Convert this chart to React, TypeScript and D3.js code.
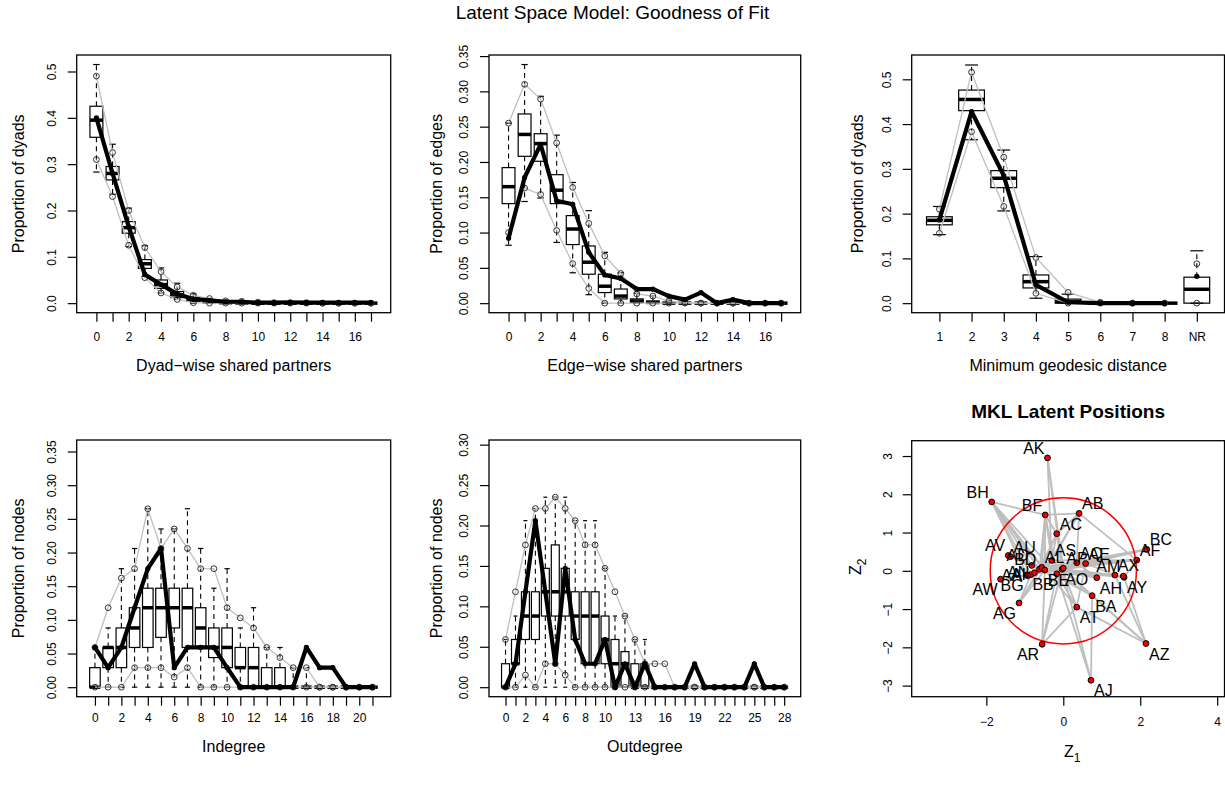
import { useEffect, useRef } from 'react'
import * as d3 from 'd3'

const W = 1225
const H = 787
const FONT = '"Liberation Sans", Arial, Helvetica, sans-serif'

// ---------- Dyad-wise shared partners
const dspCats = ['0', '1', '2', '3', '4', '5', '6', '7', '8', '9', '10', '11', '12', '13', '14', '15', '16', '17']
const dspShown = ['0', '2', '4', '6', '8', '10', '12', '14', '16']
const dspLo = [0.283, 0.235, 0.122, 0.058, 0.022, 0.008, 0, 0, 0, 0, 0, 0, 0, 0, 0, 0, 0, 0]
const dspQ1 = [0.358, 0.266, 0.151, 0.075, 0.032, 0.012, 0.004, 0.001, 0, 0, 0, 0, 0, 0, 0, 0, 0, 0]
const dspMed = [0.395, 0.28, 0.163, 0.085, 0.04, 0.018, 0.007, 0.003, 0.001, 0.0005, 0, 0, 0, 0, 0, 0, 0, 0]
const dspQ3 = [0.425, 0.295, 0.176, 0.094, 0.05, 0.025, 0.012, 0.006, 0.003, 0.002, 0.001, 0, 0, 0, 0, 0, 0, 0]
const dspHi = [0.515, 0.343, 0.205, 0.124, 0.076, 0.043, 0.02, 0.01, 0.006, 0.004, 0.002, 0.001, 0.001, 0.001, 0, 0, 0, 0]
const dspGreyLo = [0.31, 0.23, 0.125, 0.055, 0.022, 0.008, 0.001, 0, 0, 0, 0, 0, 0, 0, 0, 0, 0, 0]
const dspGreyHi = [0.49, 0.325, 0.2, 0.12, 0.068, 0.035, 0.017, 0.01, 0.005, 0.004, 0.002, 0.001, 0.001, 0.001, 0, 0, 0, 0]
const dspObs = [0.4, 0.28, 0.165, 0.062, 0.04, 0.02, 0.009, 0.006, 0.003, 0.003, 0.001, 0.001, 0.002, 0.001, 0.001, 0.001, 0.001, 0.001]

// ---------- Edge-wise shared partners
const espCats = dspCats
const espShown = dspShown
const espLo = [0.082, 0.144, 0.149, 0.086, 0.043, 0.012, 0, 0, 0, 0, 0, 0, 0, 0, 0, 0, 0, 0]
const espQ1 = [0.141, 0.208, 0.201, 0.141, 0.083, 0.041, 0.015, 0.006, 0.001, 0, 0, 0, 0, 0, 0, 0, 0, 0]
const espMed = [0.165, 0.239, 0.226, 0.16, 0.105, 0.058, 0.024, 0.01, 0.003, 0.001, 0, 0, 0, 0, 0, 0, 0, 0]
const espQ3 = [0.192, 0.268, 0.24, 0.182, 0.124, 0.081, 0.041, 0.02, 0.006, 0.003, 0.001, 0, 0, 0, 0, 0, 0, 0]
const espHi = [0.255, 0.338, 0.293, 0.238, 0.171, 0.131, 0.072, 0.043, 0.014, 0.01, 0.004, 0.002, 0.001, 0, 0, 0, 0, 0]
const espGreyLo = [0.1, 0.163, 0.154, 0.103, 0.056, 0.021, 0, 0, 0, 0, 0, 0, 0, 0, 0, 0, 0, 0]
const espGreyHi = [0.255, 0.31, 0.289, 0.227, 0.164, 0.113, 0.067, 0.042, 0.013, 0.01, 0.003, 0.001, 0, 0, 0, 0, 0, 0]
const espObs = [0.092, 0.178, 0.225, 0.145, 0.14, 0.072, 0.04, 0.035, 0.02, 0.02, 0.01, 0.005, 0.015, 0, 0.005, 0, 0, 0]

// ---------- Minimum geodesic distance
const distCats = ['1', '2', '3', '4', '5', '6', '7', '8', 'NR']
const distLo = [0.153, 0.365, 0.206, 0.011, 0, 0, 0, 0, 0]
const distQ1 = [0.175, 0.43, 0.258, 0.034, 0, 0, 0, 0, 0]
const distMed = [0.185, 0.455, 0.279, 0.048, 0.003, 0, 0, 0, 0.031]
const distQ3 = [0.193, 0.476, 0.296, 0.063, 0.009, 0.001, 0, 0, 0.058]
const distHi = [0.216, 0.532, 0.342, 0.104, 0.02, 0.002, 0, 0, 0.117]
const distGreyLo = [0.156, 0.383, 0.216, 0.022, 0, 0, 0, 0, 0]
const distGreyHi = [0.21, 0.516, 0.326, 0.102, 0.024, 0.002, 0, 0, 0.088]
const distObs = [0.186, 0.428, 0.285, 0.041, 0.002, 0, 0, 0, 0.06]

// ---------- Indegree
const indegCats = ['0', '1', '2', '3', '4', '5', '6', '7', '8', '9', '10', '11', '12', '13', '14', '15', '16', '17', '18', '19', '20', '21']
const indegShown = ['0', '2', '4', '6', '8', '10', '12', '14', '16', '18', '20']
const indegLo = [0, 0, 0, 0, 0, 0, 0, 0, 0, 0, 0, 0, 0, 0, 0, 0, 0, 0, 0, 0, 0, 0]
const indegQ1 = [0, 0.029, 0.029, 0.059, 0.059, 0.074, 0.088, 0.059, 0.059, 0.044, 0.029, 0.029, 0, 0, 0, 0, 0, 0, 0, 0, 0, 0]
const indegMed = [0, 0.059, 0.059, 0.088, 0.118, 0.118, 0.118, 0.118, 0.088, 0.059, 0.059, 0.029, 0.029, 0, 0, 0, 0, 0, 0, 0, 0, 0]
const indegQ3 = [0.029, 0.059, 0.088, 0.118, 0.147, 0.147, 0.147, 0.147, 0.118, 0.088, 0.088, 0.059, 0.059, 0.029, 0.029, 0, 0, 0, 0, 0, 0, 0]
const indegHi = [0.059, 0.088, 0.176, 0.206, 0.265, 0.235, 0.235, 0.265, 0.206, 0.147, 0.176, 0.088, 0.118, 0.059, 0.059, 0.029, 0.029, 0, 0, 0, 0, 0]
const indegGreyLo = [0, 0, 0, 0.029, 0.029, 0.029, 0.015, 0.029, 0, 0, 0, 0, 0, 0, 0, 0, 0, 0, 0, 0, 0, 0]
const indegGreyHi = [0.059, 0.118, 0.162, 0.176, 0.265, 0.206, 0.235, 0.206, 0.176, 0.176, 0.118, 0.103, 0.088, 0.059, 0.044, 0.029, 0.029, 0, 0, 0, 0, 0]
const indegObs = [0.059, 0.029, 0.059, 0.118, 0.176, 0.206, 0.029, 0.059, 0.059, 0.059, 0.029, 0, 0, 0, 0, 0, 0.059, 0.029, 0.029, 0, 0, 0]

// ---------- Outdegree
const outdegCats = ['0', '1', '2', '3', '4', '5', '6', '7', '8', '9', '10', '11', '12', '13', '14', '15', '16', '17', '18', '19', '20', '21', '22', '23', '24', '25', '26', '27', '28']
const outdegShown = ['0', '2', '4', '6', '8', '10', '13', '16', '19', '22', '25', '28']
const outdegLo = [0, 0, 0, 0, 0, 0, 0, 0, 0, 0, 0, 0, 0, 0, 0, 0, 0, 0, 0, 0, 0, 0, 0, 0, 0, 0, 0, 0, 0]
const outdegQ1 = [0, 0.029, 0.059, 0.059, 0.088, 0.088, 0.088, 0.059, 0.029, 0.029, 0.029, 0, 0, 0, 0, 0, 0, 0, 0, 0, 0, 0, 0, 0, 0, 0, 0, 0, 0]
const outdegMed = [0, 0.029, 0.088, 0.088, 0.118, 0.118, 0.118, 0.088, 0.088, 0.088, 0.059, 0.029, 0.029, 0, 0, 0, 0, 0, 0, 0, 0, 0, 0, 0, 0, 0, 0, 0, 0]
const outdegQ3 = [0.029, 0.059, 0.118, 0.118, 0.147, 0.176, 0.147, 0.118, 0.118, 0.118, 0.088, 0.059, 0.044, 0.029, 0.029, 0, 0, 0, 0, 0, 0, 0, 0, 0, 0, 0, 0, 0, 0]
const outdegHi = [0.059, 0.088, 0.206, 0.221, 0.235, 0.235, 0.235, 0.206, 0.206, 0.206, 0.147, 0.088, 0.088, 0.059, 0.059, 0, 0, 0, 0, 0, 0, 0, 0, 0, 0, 0, 0, 0, 0]
const outdegGreyLo = [0, 0, 0.015, 0, 0.029, 0.029, 0.015, 0, 0, 0, 0, 0, 0, 0, 0, 0, 0, 0, 0, 0, 0, 0, 0, 0, 0, 0, 0, 0, 0]
const outdegGreyHi = [0.059, 0.118, 0.176, 0.221, 0.221, 0.235, 0.221, 0.206, 0.176, 0.176, 0.147, 0.118, 0.088, 0.059, 0.029, 0.029, 0.029, 0, 0, 0, 0, 0, 0, 0, 0, 0, 0, 0, 0]
const outdegObs = [0, 0.029, 0.118, 0.206, 0.118, 0.029, 0.147, 0.059, 0.029, 0.029, 0.059, 0, 0.029, 0, 0.029, 0, 0, 0, 0, 0.029, 0, 0, 0, 0, 0, 0.029, 0, 0, 0]

// ---------- MKL latent positions
const nodeNames = ['AK', 'BH', 'BF', 'AB', 'AC', 'AV', 'AU', 'AD', 'BD', 'AL', 'AS', 'BE', 'AO', 'AP', 'BB', 'AQ', 'AE', 'AH', 'AX', 'AY', 'AM', 'AF', 'BC', 'AW', 'BG', 'AI', 'AA', 'AN', 'AG', 'AT', 'BA', 'AR', 'AZ', 'AJ']
const nodeX = [-0.41, -1.86, -0.47, 0.41, -0.17, -1.43, -1.37, -0.82, -0.62, -0.56, -0.3, -0.48, -0.03, 0.0, -0.17, 0.35, 0.58, 0.87, 1.34, 1.58, 1.56, 1.91, 2.17, -1.63, -0.95, -0.84, -0.93, -0.75, -1.15, 0.35, 0.75, -0.55, 2.15, 0.72]
const nodeY = [2.95, 1.8, 1.46, 1.5, 0.97, 0.4, 0.37, 0.14, 0.04, 0.09, 0.27, 0.02, 0.04, 0.07, -0.08, 0.21, 0.19, -0.18, -0.11, -0.17, -0.14, 0.28, 0.56, -0.22, -0.11, -0.1, -0.13, -0.05, -0.84, -0.95, -0.65, -1.92, -1.9, -2.86]
const nodeLabelSide = ['nw', 'nw', 'nw', 'ne', 'ne', 'nw', 'ne', 'nw', 'nw', 'ne', 'ne', 'se', 'se', 'ne', 'sw', 'ne', 'ne', 'se', 'ne', 'se', 'nw', 'ne', 'ne', 'sw', 'sw', 'w', 'w', 'w', 'sw', 'se', 'se', 'sw', 'se', 'se']
const edgeList = [
  ['BH', 'BF'], ['BH', 'AD'], ['BH', 'BD'], ['BH', 'AL'], ['BH', 'BE'], ['BH', 'AI'], ['BH', 'BB'], ['BH', 'AA'],
  ['AK', 'AO'], ['AK', 'AS'], ['AK', 'AP'],
  ['BF', 'AB'], ['BF', 'AL'], ['BF', 'AS'], ['BF', 'BE'], ['BF', 'BD'], ['BF', 'BB'], ['BF', 'AC'],
  ['AB', 'AF'], ['AB', 'AC'], ['AB', 'AS'], ['AB', 'BE'], ['AB', 'AQ'],
  ['AC', 'AS'], ['AC', 'BD'], ['AC', 'AL'], ['AC', 'AO'],
  ['AV', 'AD'], ['AV', 'BD'], ['AV', 'AL'], ['AU', 'BD'], ['AU', 'AL'],
  ['BC', 'AO'], ['BC', 'AL'], ['BC', 'AP'], ['BC', 'BE'], ['BC', 'AQ'],
  ['AF', 'AO'], ['AF', 'AS'], ['AF', 'AE'], ['AF', 'BE'], ['AF', 'AL'], ['AF', 'AY'],
  ['AX', 'AZ'], ['AX', 'AO'], ['AX', 'AE'], ['AY', 'AZ'], ['AY', 'AO'], ['AY', 'BE'], ['AM', 'AO'],
  ['AZ', 'BA'], ['AZ', 'AO'], ['AZ', 'AT'],
  ['AJ', 'BA'], ['AJ', 'AO'], ['AJ', 'BB'],
  ['AR', 'AT'], ['AR', 'BE'], ['AR', 'AO'], ['AR', 'BB'],
  ['AG', 'BD'], ['AG', 'AI'], ['AG', 'BE'], ['AG', 'AL'],
  ['AW', 'BG'], ['AW', 'AI'], ['AW', 'AO'],
  ['AT', 'AO'], ['AT', 'BB'], ['AT', 'AE'], ['AT', 'BE'],
  ['AH', 'AO'], ['AH', 'BE'], ['AH', 'AQ'], ['AH', 'AP'],
  ['BA', 'AO'], ['BA', 'AP'], ['BA', 'BB'], ['BA', 'AS'], ['BA', 'BE'],
  ['AD', 'BD'], ['BD', 'AL'], ['AL', 'BE'], ['BE', 'AO'], ['AO', 'AP'], ['AP', 'AQ'], ['AQ', 'AE'],
  ['AS', 'AO'], ['BB', 'AO'], ['AI', 'AA'], ['AA', 'AN'], ['AN', 'BE'], ['BG', 'AI'], ['BD', 'BE'],
  ['AL', 'AS'], ['AS', 'BE'], ['AD', 'AL'], ['AE', 'AO'], ['AQ', 'BE'], ['AN', 'AO'], ['BG', 'BE'],
]
const latentXTicks = [-2, 0, 2, 4]
const latentYTicks = [-3, -2, -1, 0, 1, 2, 3]
const latentXRange = [-3.94, 4.19]
const latentYRange = [-3.29, 3.4]
const mklRadius = 1.9

const panels = [
  {
    frame: { x0: 76.7, x1: 390.7, y0: 55, y1: 312.7 },
    cats: dspCats, shown: dspShown, yMax: 0.515, yTicks: [0, 0.1, 0.2, 0.3, 0.4, 0.5], yFmt: '.1f',
    lo: dspLo, q1: dspQ1, med: dspMed, q3: dspQ3, hi: dspHi, gLo: dspGreyLo, gHi: dspGreyHi, obs: dspObs,
    nLine: 18, xlab: 'Dyad\u2212wise shared partners', ylab: 'Proportion of dyads',
    tickDy: 24, xlabDy: 53, ylabX: 18.3,
  },
  {
    frame: { x0: 489, x1: 800.7, y0: 55, y1: 312.7 },
    cats: espCats, shown: espShown, yMax: 0.338, yTicks: [0, 0.05, 0.1, 0.15, 0.2, 0.25, 0.3, 0.35], yFmt: '.2f',
    lo: espLo, q1: espQ1, med: espMed, q3: espQ3, hi: espHi, gLo: espGreyLo, gHi: espGreyHi, obs: espObs,
    nLine: 18, xlab: 'Edge\u2212wise shared partners', ylab: 'Proportion of edges',
    tickDy: 24, xlabDy: 53, ylabX: 436.5,
  },
  {
    frame: { x0: 911.7, x1: 1224.5, y0: 55, y1: 312.7 },
    cats: distCats, shown: distCats, yMax: 0.533, yTicks: [0, 0.1, 0.2, 0.3, 0.4, 0.5], yFmt: '.1f',
    lo: distLo, q1: distQ1, med: distMed, q3: distQ3, hi: distHi, gLo: distGreyLo, gHi: distGreyHi, obs: distObs,
    nLine: 8, xlab: 'Minimum geodesic distance', ylab: 'Proportion of dyads',
    tickDy: 24, xlabDy: 53, ylabX: 857.5,
  },
  {
    frame: { x0: 76.7, x1: 390.7, y0: 440, y1: 696.7 },
    cats: indegCats, shown: indegShown, yMax: 0.353, yTicks: [0, 0.05, 0.1, 0.15, 0.2, 0.25, 0.3, 0.35], yFmt: '.2f',
    lo: indegLo, q1: indegQ1, med: indegMed, q3: indegQ3, hi: indegHi, gLo: indegGreyLo, gHi: indegGreyHi, obs: indegObs,
    nLine: 22, xlab: 'Indegree', ylab: 'Proportion of nodes',
    tickDy: 21, xlabDy: 50, ylabX: 18.3,
  },
  {
    frame: { x0: 489, x1: 800.7, y0: 440, y1: 696.7 },
    cats: outdegCats, shown: outdegShown, yMax: 0.294, yTicks: [0, 0.05, 0.1, 0.15, 0.2, 0.25, 0.3], yFmt: '.2f',
    lo: outdegLo, q1: outdegQ1, med: outdegMed, q3: outdegQ3, hi: outdegHi, gLo: outdegGreyLo, gHi: outdegGreyHi, obs: outdegObs,
    nLine: 29, xlab: 'Outdegree', ylab: 'Proportion of nodes',
    tickDy: 21, xlabDy: 50, ylabX: 436.5,
  },
]

function styleAxis(a) {
  a.attr('font-size', 12).attr('font-family', FONT)
  a.select('.domain').remove()
  a.selectAll('.tick line').attr('stroke-width', 1.2)
}

function drawGof(g, p) {
  const { x0, x1, y0, y1 } = p.frame
  const n = p.cats.length
  const pos = p.cats.map((_, i) => i + 1)
  const x = d3.scaleLinear().domain([0.5 - 0.04 * n, n + 0.5 + 0.04 * n]).range([x0, x1])
  const y = d3.scaleLinear().domain([-0.04 * p.yMax, 1.04 * p.yMax]).range([y1, y0])
  const unit = x(2) - x(1)
  const half = 0.4 * unit
  const staple = 0.2 * unit

  // boxplots
  const bx = g.append('g').attr('stroke', '#000').attr('fill', 'none')
  bx.selectAll('.wu').data(pos).join('line')
    .attr('x1', (k) => x(k)).attr('x2', (k) => x(k))
    .attr('y1', (k) => y(p.q3[k - 1])).attr('y2', (k) => y(p.hi[k - 1]))
    .attr('stroke-width', 1.1).attr('stroke-dasharray', '5,4')
  bx.selectAll('.wl').data(pos).join('line')
    .attr('x1', (k) => x(k)).attr('x2', (k) => x(k))
    .attr('y1', (k) => y(p.q1[k - 1])).attr('y2', (k) => y(p.lo[k - 1]))
    .attr('stroke-width', 1.1).attr('stroke-dasharray', '5,4')
  bx.selectAll('.su').data(pos).join('line')
    .attr('x1', (k) => x(k) - staple).attr('x2', (k) => x(k) + staple)
    .attr('y1', (k) => y(p.hi[k - 1])).attr('y2', (k) => y(p.hi[k - 1]))
    .attr('stroke-width', 1.2)
  bx.selectAll('.sl').data(pos).join('line')
    .attr('x1', (k) => x(k) - staple).attr('x2', (k) => x(k) + staple)
    .attr('y1', (k) => y(p.lo[k - 1])).attr('y2', (k) => y(p.lo[k - 1]))
    .attr('stroke-width', 1.2)
  bx.selectAll('rect').data(pos).join('rect')
    .attr('x', (k) => x(k) - half).attr('width', 2 * half)
    .attr('y', (k) => y(p.q3[k - 1])).attr('height', (k) => y(p.q1[k - 1]) - y(p.q3[k - 1]))
    .attr('stroke-width', 1.2)
  bx.selectAll('.med').data(pos).join('line')
    .attr('x1', (k) => x(k) - half).attr('x2', (k) => x(k) + half)
    .attr('y1', (k) => y(p.med[k - 1])).attr('y2', (k) => y(p.med[k - 1]))
    .attr('stroke-width', 3.5)

  // simulation bounds
  const line = d3.line().x((d, i) => x(i + 1)).y((d) => y(d))
  ;[p.gLo, p.gHi].forEach((vals) => {
    g.append('path').attr('d', line(vals.slice(0, p.nLine)))
      .attr('fill', 'none').attr('stroke', '#bfbfbf').attr('stroke-width', 1.3)
    g.append('g').selectAll('circle').data(vals).join('circle')
      .attr('cx', (d, i) => x(i + 1)).attr('cy', (d) => y(d)).attr('r', 2.9)
      .attr('fill', 'none').attr('stroke', '#333').attr('stroke-width', 1)
  })

  // observed
  g.append('path').attr('d', line(p.obs.slice(0, p.nLine)))
    .attr('fill', 'none').attr('stroke', '#000').attr('stroke-width', 4.2)
    .attr('stroke-linejoin', 'round')
  g.append('g').selectAll('circle').data(p.obs).join('circle')
    .attr('cx', (d, i) => x(i + 1)).attr('cy', (d) => y(d)).attr('r', 2.6).attr('fill', '#000')

  // frame
  g.append('rect').attr('x', x0).attr('y', y0).attr('width', x1 - x0).attr('height', y1 - y0)
    .attr('fill', 'none').attr('stroke', '#000').attr('stroke-width', 1.3)

  // axes
  const ya = g.append('g').attr('transform', `translate(${x0},0)`)
    .call(d3.axisLeft(y).tickValues(p.yTicks).tickSize(9).tickFormat(d3.format(p.yFmt)))
  styleAxis(ya)
  ya.selectAll('.tick text').attr('x', null).attr('dy', null)
    .attr('text-anchor', 'middle').attr('transform', 'translate(-20.7,0) rotate(-90)')

  const xa = g.append('g').attr('transform', `translate(0,${y1})`)
    .call(d3.axisBottom(x).tickValues(pos).tickSize(9)
      .tickFormat((k) => (p.shown.includes(p.cats[k - 1]) ? p.cats[k - 1] : '')))
  styleAxis(xa)
  xa.selectAll('.tick text').attr('y', p.tickDy + 4.3).attr('dy', null)

  g.append('text').attr('x', (x0 + x1) / 2).attr('y', y1 + p.xlabDy + 5.7)
    .attr('text-anchor', 'middle').attr('font-size', 16).attr('font-family', FONT).text(p.xlab)
  g.append('text').attr('text-anchor', 'middle').attr('font-size', 16).attr('font-family', FONT)
    .attr('transform', `translate(${p.ylabX + 5.7},${(y0 + y1) / 2}) rotate(-90)`).text(p.ylab)
}

function drawLatent(g) {
  const fr = { x0: 911.7, x1: 1224.5, y0: 440.7, y1: 696.7 }
  const x = d3.scaleLinear().domain(latentXRange).range([fr.x0, fr.x1])
  const y = d3.scaleLinear().domain(latentYRange).range([fr.y1, fr.y0])
  const at = (name) => nodeNames.indexOf(name)

  g.append('g').selectAll('line').data(edgeList).join('line')
    .attr('x1', (d) => x(nodeX[at(d[0])])).attr('y1', (d) => y(nodeY[at(d[0])]))
    .attr('x2', (d) => x(nodeX[at(d[1])])).attr('y2', (d) => y(nodeY[at(d[1])]))
    .attr('stroke', '#bebebe').attr('stroke-width', 1.8)

  g.append('circle').attr('cx', x(0)).attr('cy', y(0)).attr('r', x(mklRadius) - x(0))
    .attr('fill', 'none').attr('stroke', '#ff0000').attr('stroke-width', 1.5)

  g.append('g').selectAll('circle').data(nodeNames).join('circle')
    .attr('cx', (d, i) => x(nodeX[i])).attr('cy', (d, i) => y(nodeY[i])).attr('r', 2.9)
    .attr('fill', '#ee0000').attr('stroke', '#000').attr('stroke-width', 1)

  const dx = { ne: 3, nw: -3, se: 3, sw: -3, w: -5 }
  const dy = { ne: -4, nw: -4, se: 16, sw: 16, w: 5.5 }
  g.append('g').attr('font-size', 16).attr('font-family', FONT)
    .selectAll('text').data(nodeNames).join('text')
    .attr('x', (d, i) => x(nodeX[i]) + dx[nodeLabelSide[i]])
    .attr('y', (d, i) => y(nodeY[i]) + dy[nodeLabelSide[i]])
    .attr('text-anchor', (d, i) => (nodeLabelSide[i].includes('e') ? 'start' : 'end'))
    .text((d) => d)

  g.append('rect').attr('x', fr.x0).attr('y', fr.y0).attr('width', fr.x1 - fr.x0).attr('height', fr.y1 - fr.y0)
    .attr('fill', 'none').attr('stroke', '#000').attr('stroke-width', 1.3)

  const ya = g.append('g').attr('transform', `translate(${fr.x0},0)`)
    .call(d3.axisLeft(y).tickValues(latentYTicks).tickSize(9).tickFormat(d3.format('d')))
  styleAxis(ya)
  ya.selectAll('.tick text').attr('x', null).attr('dy', null)
    .attr('text-anchor', 'middle').attr('transform', 'translate(-19.4,0) rotate(-90)')
  const xa = g.append('g').attr('transform', `translate(0,${fr.y1})`)
    .call(d3.axisBottom(x).tickValues(latentXTicks).tickSize(9).tickFormat(d3.format('d')))
  styleAxis(xa)
  xa.selectAll('.tick text').attr('y', 29.6).attr('dy', null)

  g.append('text').attr('x', (fr.x0 + fr.x1) / 2).attr('y', 417.5).attr('text-anchor', 'middle')
    .attr('font-size', 19).attr('font-weight', 'bold').attr('font-family', FONT).text('MKL Latent Positions')

  const zx = g.append('text').attr('x', 1064).attr('y', 757).attr('font-size', 16).attr('font-family', FONT)
  zx.append('tspan').text('Z')
  zx.append('tspan').attr('font-size', 12).attr('dy', 5).text('1')
  const zy = g.append('text').attr('font-size', 16).attr('font-family', FONT)
    .attr('transform', `translate(860.7,575) rotate(-90)`)
  zy.append('tspan').text('Z')
  zy.append('tspan').attr('font-size', 12).attr('dy', 5).text('2')
}

export default function App() {
  const ref = useRef(null)

  useEffect(() => {
    const svg = d3.select(ref.current)
    svg.selectAll('*').remove()
    svg.append('rect').attr('width', W).attr('height', H).attr('fill', '#fff')
    svg.append('text').attr('x', W / 2).attr('y', 19).attr('text-anchor', 'middle')
      .attr('font-size', 19).attr('font-family', FONT).text('Latent Space Model: Goodness of Fit')
    panels.forEach((p) => drawGof(svg.append('g'), p))
    drawLatent(svg.append('g'))
  }, [])

  return (
    <svg ref={ref} width={W} height={H} style={{ position: 'absolute', left: 0, top: 0 }}></svg>
  )
}
